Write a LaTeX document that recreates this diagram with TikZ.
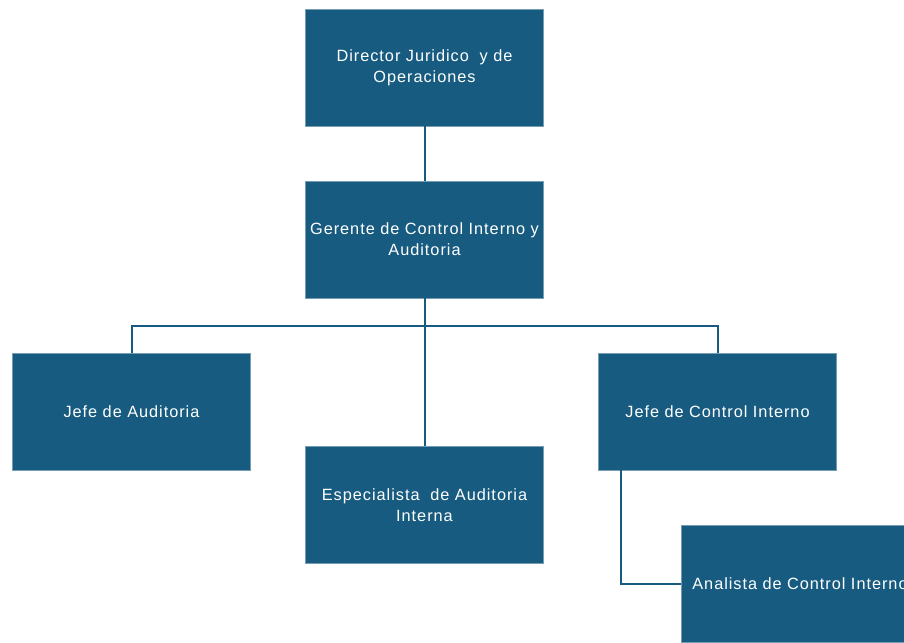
\documentclass[tikz,border=0pt]{standalone}
\usepackage{fontspec}
\setmainfont{Liberation Sans}[LetterSpace=6]
\usetikzlibrary{positioning}
\definecolor{cargo}{HTML}{175C80}
\tikzset{puesto/.style={fill=cargo,draw=cargo!60,text=white,minimum width=238pt,minimum height=117pt,text width=238pt,align=center,inner sep=0pt,font=\fontsize{16.3}{21}\selectfont},
  linea/.style={draw=cargo,line width=2pt}}
\begin{document}
\begin{tikzpicture}[x=1pt,y=-1pt]
  \useasboundingbox (0,0) rectangle (904,642);
  \node[puesto] (dir) at (424.5,67.5) {Director Juridico\ \ y de\\Operaciones};
  \node[puesto] (ger) at (424.5,239.5) {Gerente de Control Interno y\\Auditoria};
  \node[puesto] (jaud) at (131.5,411.5) {Jefe de Auditoria};
  \node[puesto] (esp) at (424.5,505) {Especialista\ \ de Auditoria\\Interna};
  \node[puesto] (jci) at (717.5,411.5) {Jefe de Control Interno};
  \node[puesto] (ana) at (800,584) {Analista de Control Interno};
  % lineas
  \draw[linea] (dir) -- (ger);
  \draw[linea] (ger.south) -- (esp.north);
  \draw[linea] (ger.south) ++(0,28) -| (jaud.north);
  \draw[linea] (ger.south) ++(0,28) -| (jci.north);
  \draw[linea] ([xshift=23pt]jci.south west) |- (ana.west);
\end{tikzpicture}
\end{document}
